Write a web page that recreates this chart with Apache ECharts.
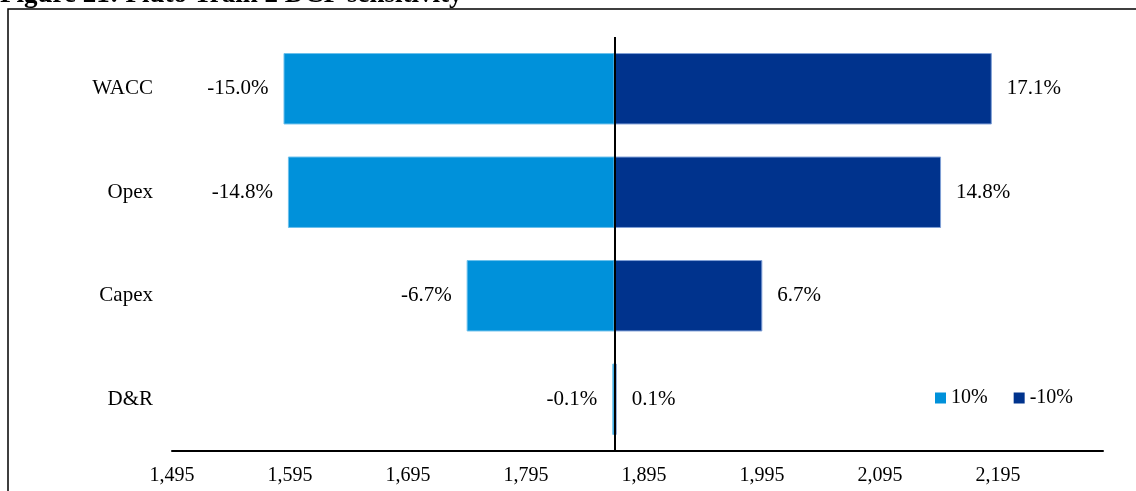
<!DOCTYPE html>
<html>
<head>
<meta charset="utf-8">
<script src="https://cdn.jsdelivr.net/npm/echarts@6/dist/echarts.min.js"></script>
<style>
  html, body { margin: 0; padding: 0; background: #fff; }
  #chart { width: 1136px; height: 491px; }
</style>
</head>
<body>
<div id="chart"></div>
<script>
// DCF sensitivity: base valuation and % change for each +10% / -10% driver shift
const categories = ['WACC', 'Opex', 'Capex', 'D&R'];
const baseValue = 1870;
const pctUp10 = [-15.0, -14.8, -6.7, -0.1];   // driver +10%
const pctDown10 = [17.1, 14.8, 6.7, 0.1];     // driver -10%
const axisTicks = [1495, 1595, 1695, 1795, 1895, 1995, 2095, 2195];
const axisMin = 1495;
const axisMax = 2284;

const lightBlue = '#0091da';
const darkBlue = '#00338d';
const FONT = '"Liberation Serif", "Times New Roman", serif';

// Bar endpoints derived from the stated percentages
const lowVals = pctUp10.map(p => baseValue * (1 + p / 100));
const highVals = pctDown10.map(p => baseValue * (1 + p / 100));

const fmtPct = v => v.toFixed(1) + '%';

const chart = echarts.init(document.getElementById('chart'), null, { renderer: 'canvas' });

chart.setOption({
  animation: false,
  backgroundColor: '#fff',
  grid: { left: 172, right: 33, top: 37, bottom: 40, containLabel: false },
  graphic: [
    {
      type: 'rect',
      shape: { x: 8, y: 9, width: 1140, height: 500 },
      style: { fill: 'none', stroke: '#000', lineWidth: 1.5 },
      silent: true
    },
    {
      type: 'text',
      x: 0, y: -18,
      style: {
        text: 'Figure 21: Pluto Train 2 DCF sensitivity',
        font: 'bold 27px ' + FONT,
        fill: '#000',
        verticalAlign: 'top'
      },
      silent: true
    }
  ],
  legend: {
    data: ['10%', '-10%'],
    left: 930, top: 383,
    itemWidth: 11, itemHeight: 11, itemGap: 26,
    icon: 'rect',
    itemStyle: { borderWidth: 0 },
    textStyle: { fontFamily: FONT, fontSize: 20, color: '#000' }
  },
  xAxis: {
    type: 'value',
    min: axisMin, max: axisMax,
    axisLine: { show: true, lineStyle: { color: '#000', width: 2 } },
    axisTick: { show: false },
    splitLine: { show: false },
    axisLabel: {
      customValues: axisTicks,
      fontFamily: FONT, fontSize: 20, color: '#000', margin: 15,
      formatter: v => Number(v).toLocaleString('en-US')
    }
  },
  yAxis: {
    type: 'category',
    data: categories,
    inverse: true,
    axisLine: { show: false },
    axisTick: { show: false },
    axisLabel: { fontFamily: FONT, fontSize: 21, color: '#000', margin: 19 }
  },
  series: [
    {
      name: 'lowOffset', type: 'bar', stack: 'low', silent: true,
      data: lowVals,
      itemStyle: { color: 'transparent' },
      barCategoryGap: '31%', barGap: '-100%'
    },
    {
      name: '10%', type: 'bar', stack: 'low',
      data: lowVals.map(v => baseValue - v),
      itemStyle: { color: lightBlue, borderColor: '#6cc0ec', borderWidth: 1 },
      label: {
        show: true, position: 'left', distance: 15,
        fontFamily: FONT, fontSize: 21, color: '#000',
        formatter: p => fmtPct(pctUp10[p.dataIndex])
      }
    },
    {
      name: 'highOffset', type: 'bar', stack: 'high', silent: true,
      data: categories.map(() => baseValue),
      itemStyle: { color: 'transparent' },
      barGap: '-100%'
    },
    {
      name: '-10%', type: 'bar', stack: 'high',
      data: highVals.map(v => v - baseValue),
      itemStyle: { color: darkBlue, borderColor: '#7f9fd6', borderWidth: 1 },
      barGap: '-100%',
      label: {
        show: true, position: 'right', distance: 15,
        fontFamily: FONT, fontSize: 21, color: '#000',
        formatter: p => fmtPct(pctDown10[p.dataIndex])
      },
      markLine: {
        silent: true, symbol: 'none',
        label: { show: false },
        lineStyle: { color: '#000', width: 2, type: 'solid' },
        data: [{ xAxis: baseValue }]
      }
    }
  ]
});
</script>
</body>
</html>
